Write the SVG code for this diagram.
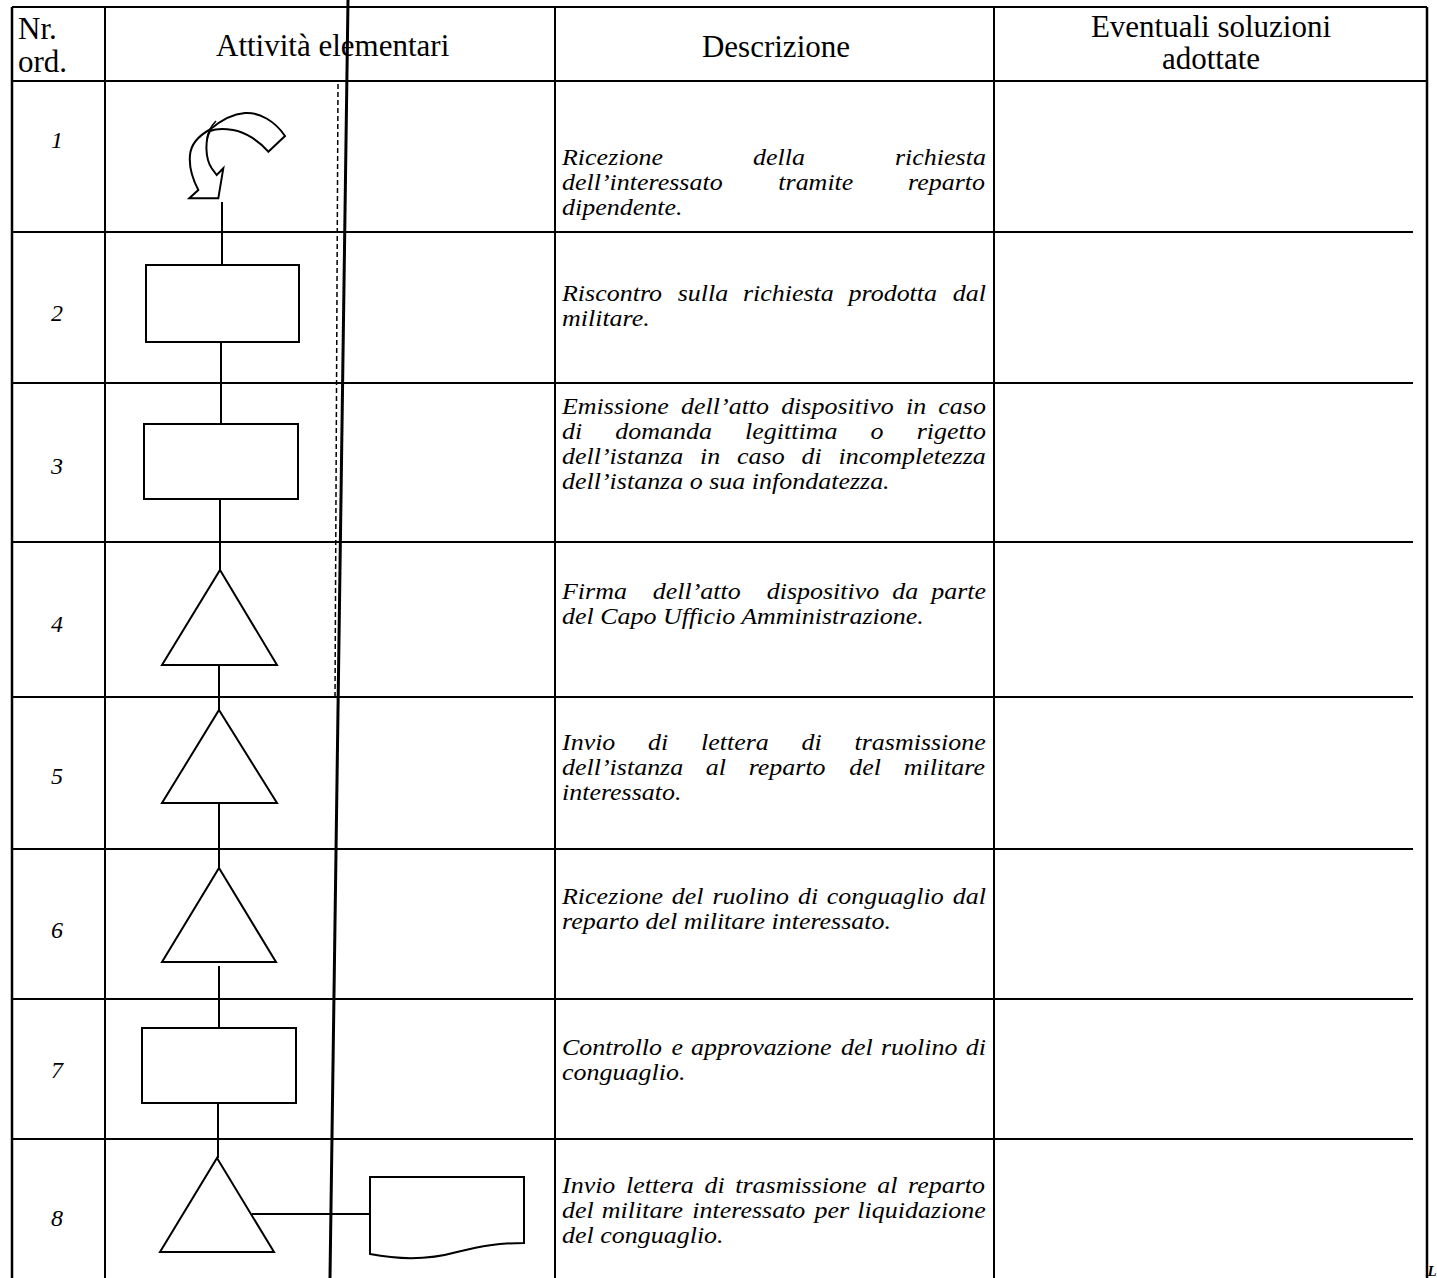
<svg xmlns="http://www.w3.org/2000/svg" width="1437" height="1278" viewBox="0 0 1437 1278">
<style>
.grid line{stroke:#000;stroke-width:2}
.hdr{font-family:"Liberation Serif",serif;font-size:31px;fill:#000}
.num{font-family:"Liberation Serif",serif;font-style:italic;font-size:24px;text-anchor:middle;fill:#000}
.desc{font-family:"Liberation Serif",serif;font-style:italic;font-size:24px;fill:#000}
.shape{fill:#fff;stroke:#000;stroke-width:2;stroke-linejoin:miter}
.conn line{stroke:#000;stroke-width:2}
</style>
<rect x="0" y="0" width="1437" height="1278" fill="#fff"/>
<g id="table" class="grid">
  <line x1="12" y1="7" x2="1427" y2="7"/>
  <line x1="12" y1="81" x2="1427" y2="81"/>
  <line x1="12" y1="232" x2="1413" y2="232"/>
  <line x1="12" y1="383" x2="1413" y2="383"/>
  <line x1="12" y1="542" x2="1413" y2="542"/>
  <line x1="12" y1="697" x2="1413" y2="697"/>
  <line x1="12" y1="849" x2="1413" y2="849"/>
  <line x1="12" y1="999" x2="1413" y2="999"/>
  <line x1="12" y1="1139" x2="1413" y2="1139"/>
  <line x1="12" y1="7" x2="12" y2="1278" style="stroke-width:2.5"/>
  <line x1="105" y1="7" x2="105" y2="1278"/>
  <line x1="555" y1="7" x2="555" y2="1278"/>
  <line x1="994" y1="7" x2="994" y2="1278"/>
  <line x1="1427" y1="7" x2="1427" y2="1278" style="stroke-width:2.5"/>
  <line x1="338" y1="84" x2="335" y2="700" style="stroke-width:1.5;stroke-dasharray:5 3"/>
  <line x1="348" y1="0" x2="330" y2="1278" style="stroke-width:3"/>
</g>
<g id="header">
  <text class="hdr"><tspan x="18" y="39">Nr.</tspan><tspan x="18" y="72">ord.</tspan></text>
  <text class="hdr" x="216" y="56">Attività elementari</text>
  <text class="hdr" x="776" y="57" text-anchor="middle">Descrizione</text>
  <text class="hdr" text-anchor="middle"><tspan x="1211" y="37">Eventuali soluzioni</tspan><tspan x="1211" y="69">adottate</tspan></text>
</g>
<g id="numbers">
  <text class="num" x="57" y="148">1</text>
  <text class="num" x="57" y="321">2</text>
  <text class="num" x="57" y="474">3</text>
  <text class="num" x="57" y="632">4</text>
  <text class="num" x="57" y="784">5</text>
  <text class="num" x="57" y="938">6</text>
  <text class="num" x="57" y="1078">7</text>
  <text class="num" x="57" y="1226">8</text>
</g>
<g id="connectors" class="conn">
  <line x1="222" y1="202" x2="222" y2="265"/>
  <line x1="221" y1="342" x2="221" y2="424"/>
  <line x1="220" y1="499" x2="220" y2="570"/>
  <line x1="219" y1="665" x2="219" y2="710"/>
  <line x1="219" y1="803" x2="219" y2="868"/>
  <line x1="219" y1="966" x2="219" y2="1028"/>
  <line x1="218" y1="1103" x2="218" y2="1158"/>
  <line x1="252" y1="1214" x2="370" y2="1214"/>
</g>
<g id="node1">
  <path class="shape" d="M189.3,198.3 L198.3,190 C192,178 189,165 190,155 C191,144 200,135 210,129.5 C220,121 232,114 245,113 C259,112 275,121 285,136 L268.3,151.7 C260,142 246,132 233,130 C224,128.5 215,129 210,131 C205,140 205,158 211.7,168.3 L216.7,175 L223.3,168.3 L218.3,198.3 Z"/>
  <path d="M216,121 C210,127 207,133 207,141" fill="none" stroke="#000" stroke-width="1.5"/>
</g>
<g id="node2"><rect class="shape" x="146" y="265" width="153" height="77"/></g>
<g id="node3"><rect class="shape" x="144" y="424" width="154" height="75"/></g>
<g id="node4"><path class="shape" d="M220,570 L277,665 L162,665 Z"/></g>
<g id="node5"><path class="shape" d="M219,710 L277,803 L162,803 Z"/></g>
<g id="node6"><path class="shape" d="M219,868 L276,962 L162,962 Z"/></g>
<g id="node7"><rect class="shape" x="142" y="1028" width="154" height="75"/></g>
<g id="node8"><path class="shape" d="M217,1158 L274,1252 L160,1252 Z"/></g>
<g id="node9"><path class="shape" d="M370,1177 H524 V1243 C498,1243 482,1246 457,1252 C432,1259 406,1261 370,1254 Z"/></g>
<g id="descriptions" transform="matrix(1.0833 0 0 1 -46.83 0)">
  <text class="desc"><tspan x="562" y="165">Ricezione</tspan><tspan x="738.4" y="165">della</tspan><tspan x="869.4" y="165">richiesta</tspan><tspan x="562" y="190">dell’interessato</tspan><tspan x="761.7" y="190">tramite</tspan><tspan x="881.4" y="190">reparto</tspan><tspan x="562" y="215">dipendente.</tspan></text>

  <text class="desc"><tspan x="562" y="301">Riscontro</tspan><tspan x="668.8" y="301">sulla</tspan><tspan x="729" y="301">richiesta</tspan><tspan x="826.5" y="301">prodotta</tspan><tspan x="922.7" y="301">dal</tspan><tspan x="562" y="326">militare.</tspan></text>

  <text class="desc"><tspan x="562" y="414">Emissione</tspan><tspan x="671.9" y="414">dell’atto</tspan><tspan x="764.3" y="414">dispositivo</tspan><tspan x="879.5" y="414">in</tspan><tspan x="909.4" y="414">caso</tspan><tspan x="562" y="439">di</tspan><tspan x="611.2" y="439">domanda</tspan><tspan x="731" y="439">legittima</tspan><tspan x="846.9" y="439">o</tspan><tspan x="889.4" y="439">rigetto</tspan><tspan x="562" y="464">dell’istanza</tspan><tspan x="689.5" y="464">in</tspan><tspan x="723.6" y="464">caso</tspan><tspan x="783.2" y="464">di</tspan><tspan x="817.3" y="464">incompletezza</tspan><tspan x="562" y="489">dell’istanza o sua infondatezza.</tspan></text>

  <text class="desc"><tspan x="562" y="599">Firma</tspan><tspan x="645.8" y="599">dell’atto</tspan><tspan x="751" y="599">dispositivo</tspan><tspan x="866.9" y="599">da</tspan><tspan x="902.8" y="599">parte</tspan><tspan x="562" y="624">del Capo Ufficio Amministrazione.</tspan></text>

  <text class="desc"><tspan x="562" y="750">Invio</tspan><tspan x="641.5" y="750">di</tspan><tspan x="690.3" y="750">lettera</tspan><tspan x="783.2" y="750">di</tspan><tspan x="832" y="750">trasmissione</tspan><tspan x="562" y="775">dell’istanza</tspan><tspan x="694.8" y="775">al</tspan><tspan x="734.3" y="775">reparto</tspan><tspan x="827.2" y="775">del</tspan><tspan x="877.4" y="775">militare</tspan><tspan x="562" y="800">interessato.</tspan></text>

  <text class="desc"><tspan x="562" y="904">Ricezione</tspan><tspan x="663.4" y="904">del</tspan><tspan x="700.9" y="904">ruolino</tspan><tspan x="779.8" y="904">di</tspan><tspan x="806.5" y="904">conguaglio</tspan><tspan x="922.7" y="904">dal</tspan><tspan x="562" y="929">reparto del militare interessato.</tspan></text>

  <text class="desc"><tspan x="562" y="1055">Controllo</tspan><tspan x="663" y="1055">e</tspan><tspan x="681.2" y="1055">approvazione</tspan><tspan x="819.5" y="1055">del</tspan><tspan x="856.4" y="1055">ruolino</tspan><tspan x="934.8" y="1055">di</tspan><tspan x="562" y="1080">conguaglio.</tspan></text>

  <text class="desc"><tspan x="562" y="1193">Invio</tspan><tspan x="621.1" y="1193">lettera</tspan><tspan x="693.5" y="1193">di</tspan><tspan x="721.9" y="1193">trasmissione</tspan><tspan x="853" y="1193">al</tspan><tspan x="881.4" y="1193">reparto</tspan><tspan x="562" y="1218">del</tspan><tspan x="598.8" y="1218">militare</tspan><tspan x="682.3" y="1218">interessato</tspan><tspan x="795.1" y="1218">per</tspan><tspan x="834.6" y="1218">liquidazione</tspan><tspan x="562" y="1243">del conguaglio.</tspan></text>
</g>
<text x="1427.5" y="1276" style="font-family:'Liberation Serif',serif;font-style:italic;font-weight:bold;font-size:15px">L</text>
</svg>
